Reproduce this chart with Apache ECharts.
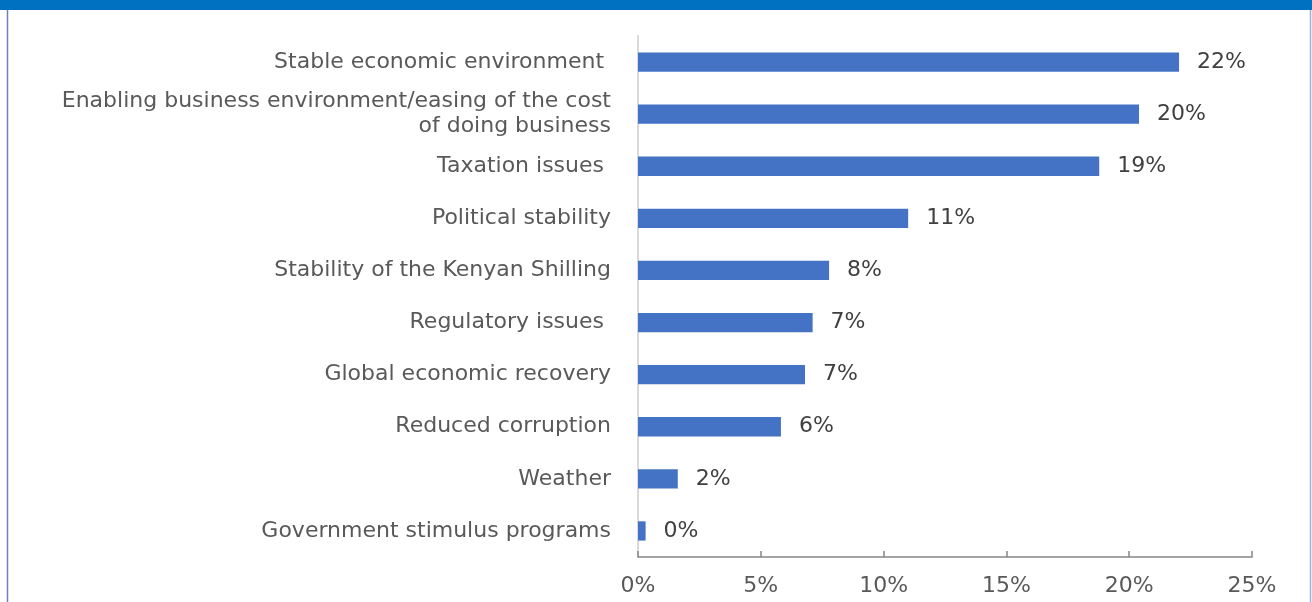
<!DOCTYPE html>
<html>
<head>
<meta charset="utf-8">
<style>
  html, body { margin: 0; padding: 0; background: #ffffff; }
  #chart { width: 1312px; height: 602px; }
</style>
<script src="https://cdn.jsdelivr.net/npm/echarts@6/dist/echarts.min.js"></script>
</head>
<body>
<div id="chart"></div>
<script>
// Survey factors, listed top to bottom
const categories = [
  'Stable economic environment ',
  'Enabling business environment/easing of the cost\nof doing business',
  'Taxation issues ',
  'Political stability',
  'Stability of the Kenyan Shilling',
  'Regulatory issues ',
  'Global economic recovery',
  'Reduced corruption',
  'Weather',
  'Government stimulus programs'
];
// Share of respondents, percent
const shares = [22.03, 20.40, 18.78, 11.00, 7.78, 7.11, 6.80, 5.82, 1.62, 0.31];
// Value axis ticks
const axisMin = 0;
const axisMax = 25;
const axisStep = 5;

const chart = echarts.init(document.getElementById('chart'), null, { renderer: 'canvas' });

const font = 'DejaVu Sans';

chart.setOption({
  animation: false,
  backgroundColor: '#ffffff',
  graphic: [
    { type: 'rect', shape: { x: 0, y: 0, width: 1312, height: 10 }, style: { fill: '#0070C0' }, z: 10 },
    { type: 'line', shape: { x1: 7.5, y1: 10, x2: 7.5, y2: 602 }, style: { stroke: '#6f7fbd', lineWidth: 1.5 }, z: 10 },
    { type: 'line', shape: { x1: 1310.5, y1: 10, x2: 1310.5, y2: 602 }, style: { stroke: '#a3abd3', lineWidth: 1.5 }, z: 10 }
  ],
  grid: { left: 638, top: 36, width: 614, height: 521, containLabel: false },
  xAxis: {
    type: 'value',
    min: axisMin,
    max: axisMax,
    interval: axisStep,
    axisLine: { show: true, lineStyle: { color: '#868686', width: 1.5 } },
    axisTick: { show: true, inside: true, length: 6, lineStyle: { color: '#868686', width: 1.5 } },
    splitLine: { show: false },
    axisLabel: {
      formatter: v => v + '%',
      color: '#595959',
      fontFamily: font,
      fontSize: 22,
      margin: 18
    }
  },
  yAxis: {
    type: 'category',
    inverse: true,
    data: categories,
    axisLine: { show: true, lineStyle: { color: '#d9d9d9', width: 2 } },
    axisTick: { show: false },
    axisLabel: {
      color: '#595959',
      fontFamily: font,
      fontSize: 22,
      lineHeight: 25,
      margin: 27,
      align: 'right'
    }
  },
  series: [{
    type: 'bar',
    data: shares,
    barCategoryGap: '63%',
    itemStyle: { color: '#4472C4' },
    label: {
      show: true,
      position: 'right',
      distance: 18,
      formatter: p => Math.round(p.value) + '%',
      color: '#404040',
      fontFamily: font,
      fontSize: 22
    }
  }]
});
</script>
</body>
</html>
